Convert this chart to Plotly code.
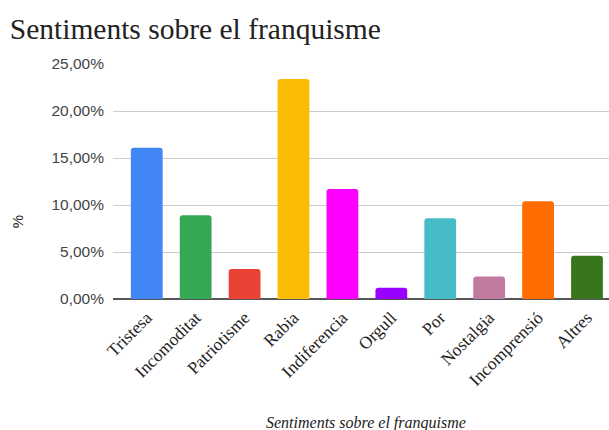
import plotly.graph_objects as go

categories = ["Tristesa", "Incomoditat", "Patriotisme", "Rabia", "Indiferencia",
              "Orgull", "Por", "Nostalgia", "Incomprensió", "Altres"]
values = [0.161, 0.089, 0.032, 0.234, 0.117, 0.012, 0.086, 0.024, 0.104, 0.046]
colors = ["#4285F4", "#34A853", "#EA4335", "#FBBC04", "#FF00FF",
          "#9900FF", "#46BDC6", "#C27BA0", "#FF6D01", "#38761D"]
y_ticks = [0, 0.05, 0.10, 0.15, 0.20, 0.25]

fig = go.Figure(go.Bar(
    x=categories, y=values, marker=dict(color=colors, line=dict(width=0)),
    width=0.65,
))

fig.update_layout(
    width=609, height=430,
    margin=dict(l=113, r=0, t=64, b=131),
    paper_bgcolor="white", plot_bgcolor="white",
    separators=",.",
    barcornerradius=3,
    showlegend=False,
    title=dict(text="Sentiments sobre el franquisme", x=0.016, xanchor="left",
               y=0.91, yanchor="bottom",
               font=dict(family="Liberation Serif", size=29.5, color="#222")),
    xaxis=dict(range=[-0.69, 9.45], tickangle=-45, showgrid=False, automargin=False,
               tickfont=dict(family="Liberation Serif", size=17.5, color="#222"),
               ticklabelstandoff=4, showline=False, ticks=""),
    yaxis=dict(range=[0, 0.25], tickvals=y_ticks, tickformat=".2%", automargin=False,
               gridcolor="#cccccc", gridwidth=1,
               zeroline=True, zerolinecolor="#555", zerolinewidth=2,
               tickfont=dict(family="Liberation Sans", size=15.5, color="#444"),
               ticklabelstandoff=8, showline=False),
    annotations=[
        dict(text="<i>Sentiments sobre el franquisme</i>", xref="paper", yref="paper",
             x=0.51, y=-0.528, xanchor="center", yanchor="middle", showarrow=False,
             font=dict(family="Liberation Serif", size=16, color="#222")),
        dict(text="%", xref="paper", yref="paper", x=-0.192, y=0.33,
             xanchor="center", yanchor="middle", showarrow=False, textangle=-90,
             font=dict(family="Liberation Sans", size=15, color="#222")),
    ],
)

fig.write_html("out.html", config={"displayModeBar": False},
               post_script="document.body.style.margin='0';document.body.style.padding='0';")
